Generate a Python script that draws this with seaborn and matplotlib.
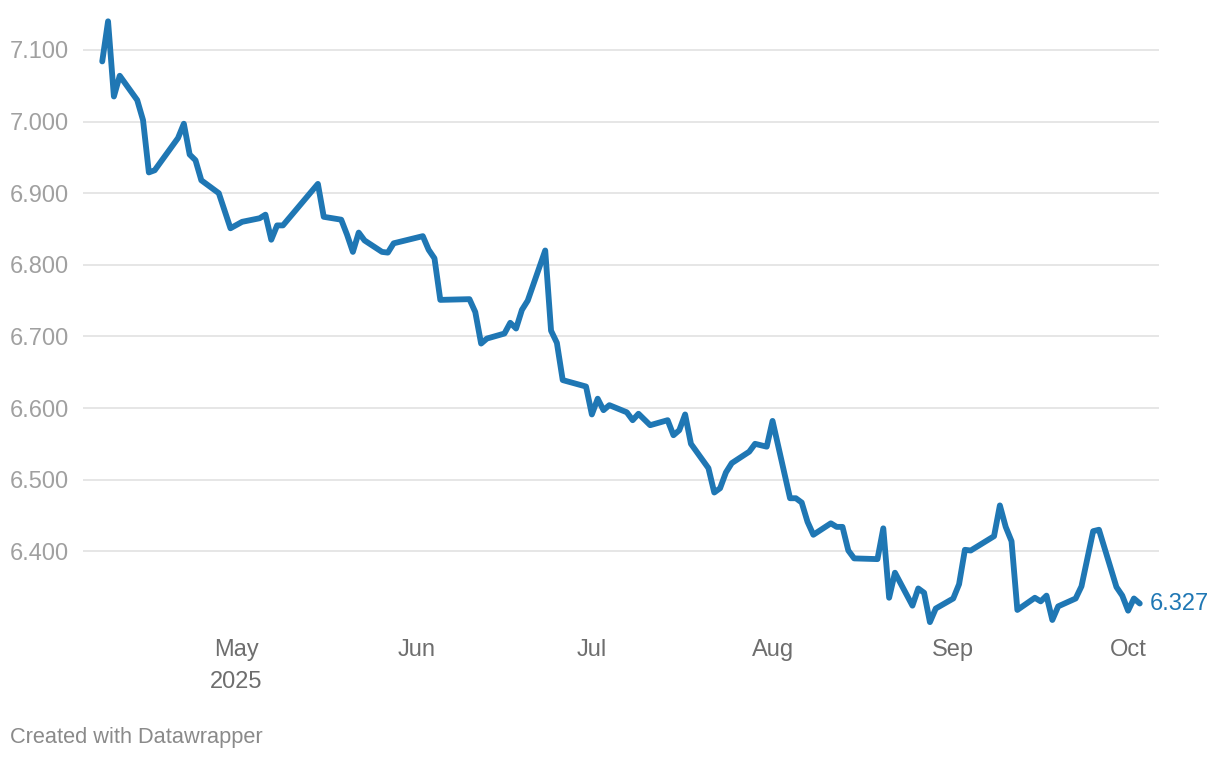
import pandas as pd
import matplotlib
matplotlib.use("Agg")
import matplotlib.pyplot as plt
import seaborn as sns

# data (business days, 2025)
dates = [
    "2025-04-08", "2025-04-09", "2025-04-10", "2025-04-11", "2025-04-14", "2025-04-15",
    "2025-04-16", "2025-04-17", "2025-04-21", "2025-04-22", "2025-04-23", "2025-04-24",
    "2025-04-25", "2025-04-28", "2025-04-30", "2025-05-02", "2025-05-05", "2025-05-06",
    "2025-05-07", "2025-05-08", "2025-05-09", "2025-05-15", "2025-05-16", "2025-05-19",
    "2025-05-20", "2025-05-21", "2025-05-22", "2025-05-23", "2025-05-26", "2025-05-27",
    "2025-05-28", "2025-06-02", "2025-06-03", "2025-06-04", "2025-06-05", "2025-06-10",
    "2025-06-11", "2025-06-12", "2025-06-13", "2025-06-16", "2025-06-17", "2025-06-18",
    "2025-06-19", "2025-06-20", "2025-06-23", "2025-06-24", "2025-06-25", "2025-06-26",
    "2025-06-30", "2025-07-01", "2025-07-02", "2025-07-03", "2025-07-04", "2025-07-07",
    "2025-07-08", "2025-07-09", "2025-07-11", "2025-07-14", "2025-07-15", "2025-07-16",
    "2025-07-17", "2025-07-18", "2025-07-21", "2025-07-22", "2025-07-23", "2025-07-24",
    "2025-07-25", "2025-07-28", "2025-07-29", "2025-07-31", "2025-08-01", "2025-08-04",
    "2025-08-05", "2025-08-06", "2025-08-07", "2025-08-08", "2025-08-11", "2025-08-12",
    "2025-08-13", "2025-08-14", "2025-08-15", "2025-08-19", "2025-08-20", "2025-08-21",
    "2025-08-22", "2025-08-25", "2025-08-26", "2025-08-27", "2025-08-28", "2025-08-29",
    "2025-09-01", "2025-09-02", "2025-09-03", "2025-09-04", "2025-09-08", "2025-09-09",
    "2025-09-10", "2025-09-11", "2025-09-12", "2025-09-15", "2025-09-16", "2025-09-17",
    "2025-09-18", "2025-09-19", "2025-09-22", "2025-09-23", "2025-09-25", "2025-09-26",
    "2025-09-29", "2025-09-30", "2025-10-01", "2025-10-02", "2025-10-03",
]
values = [
    7.084, 7.140, 7.035, 7.064, 7.030, 7.002,
    6.929, 6.932, 6.977, 6.997, 6.954, 6.946,
    6.918, 6.900, 6.851, 6.860, 6.865, 6.870,
    6.835, 6.855, 6.855, 6.913, 6.867, 6.863,
    6.842, 6.818, 6.845, 6.834, 6.818, 6.817,
    6.830, 6.840, 6.821, 6.809, 6.751, 6.752,
    6.734, 6.690, 6.697, 6.704, 6.719, 6.711,
    6.737, 6.750, 6.820, 6.708, 6.691, 6.639,
    6.630, 6.591, 6.613, 6.597, 6.604, 6.594,
    6.583, 6.592, 6.576, 6.583, 6.562, 6.569,
    6.591, 6.550, 6.516, 6.482, 6.488, 6.510,
    6.523, 6.539, 6.550, 6.546, 6.582, 6.474,
    6.474, 6.468, 6.441, 6.423, 6.439, 6.434,
    6.434, 6.401, 6.390, 6.389, 6.432, 6.335,
    6.370, 6.324, 6.348, 6.342, 6.301, 6.320,
    6.334, 6.354, 6.402, 6.401, 6.421, 6.464,
    6.434, 6.414, 6.318, 6.335, 6.330, 6.338,
    6.304, 6.323, 6.334, 6.351, 6.428, 6.430,
    6.350, 6.338, 6.317, 6.334, 6.327,
]
y_ticks = [6.4, 6.5, 6.6, 6.7, 6.8, 6.9, 7.0, 7.1]
x_ticks = ["2025-05-01", "2025-06-01", "2025-07-01", "2025-08-01", "2025-09-01", "2025-10-01"]
x_labels = ["May\n2025", "Jun", "Jul", "Aug", "Sep", "Oct"]

df = pd.DataFrame({"date": pd.to_datetime(dates), "value": values})

sns.set_style("white")
plt.rcParams["font.family"] = ["Liberation Sans", "DejaVu Sans"]

blue = "#1f77b4"

fig = plt.figure(figsize=(12.2, 7.6), dpi=100)
ax = fig.add_axes([83 / 1220, 1 - 630 / 760, (1159 - 83) / 1220, (630 - 7) / 760])

sns.lineplot(data=df, x="date", y="value", ax=ax, color=blue, linewidth=4.2,
             solid_joinstyle="round", solid_capstyle="round", zorder=3, clip_on=False)

ax.set_xlim(df["date"].iloc[0] - pd.Timedelta(days=3.3), df["date"].iloc[-1] + pd.Timedelta(days=3.3))
ax.set_ylim(6.29, 7.16)

ax.set_yticks(y_ticks)
ax.set_yticklabels([f"{v:.3f}" for v in y_ticks])
ax.set_xticks(pd.to_datetime(x_ticks))
ax.set_xticklabels(x_labels)

ax.grid(axis="y", color="#e2e2e2", linewidth=1.2)
ax.grid(axis="x", visible=False)
for s in ax.spines.values():
    s.set_visible(False)
ax.tick_params(axis="y", length=0, pad=10, labelsize=17, labelcolor="#a0a0a0")
ax.tick_params(axis="x", length=0, pad=6.5, labelsize=17, labelcolor="#6e6e6e")
for lab in ax.get_xticklabels():
    lab.set_linespacing(1.6)
ax.set_xlabel("")
ax.set_ylabel("")

# end value label
ax.annotate(f"{values[-1]:.3f}", xy=(df["date"].iloc[-1], values[-1]), xytext=(7, 0),
            textcoords="offset points", color=blue, fontsize=17, va="center", ha="left",
            annotation_clip=False)

fig.text(10 / 1220, 1 - 737 / 760, "Created with Datawrapper", color="#8a8a8a",
         fontsize=15.7, va="center", ha="left")

fig.savefig("out.png", dpi=100, facecolor="white")
